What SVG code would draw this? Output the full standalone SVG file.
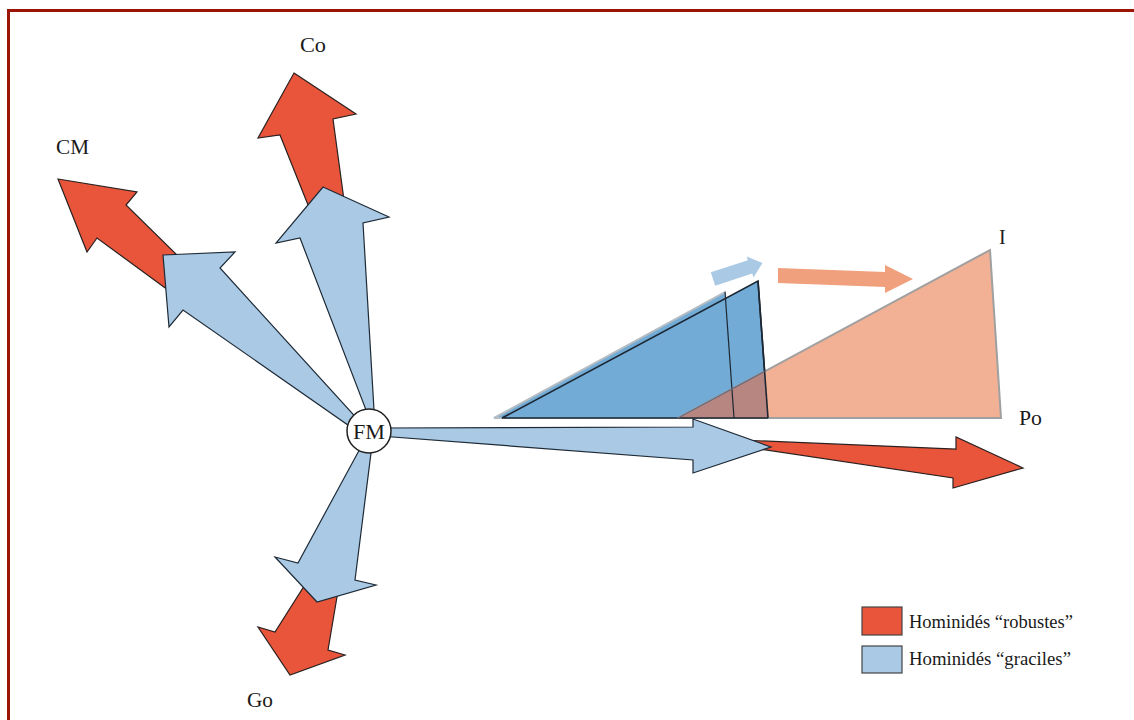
<svg xmlns="http://www.w3.org/2000/svg" width="1134" height="720" viewBox="0 0 1134 720">
<style>
.red{fill:#e8553b;stroke:#2a2020;stroke-width:1.2;stroke-linejoin:miter}
.blue{fill:#a9c9e4;stroke:#1e2a36;stroke-width:1.2;stroke-linejoin:miter}
.lbl{font-family:"Liberation Serif","Times New Roman",serif;fill:#1a1a1a}
</style>
<rect width="1134" height="720" fill="#ffffff"/>
<path d="M8.5,720 V10.5 H1134" fill="none" stroke="#9a1506" stroke-width="3"/>

<g id="triangles">
  <polygon points="494,418 725,292 734,418" fill="#72abd5" stroke="#b4bcc4" stroke-width="2"/>
  <polygon points="502,418 758,281 768,418" fill="#72abd5" stroke="#1c2733" stroke-width="1.6"/>
  <polygon points="678,418 990,250 1001,418" fill="#f2b194" stroke="#a0a0a0" stroke-width="2"/>
  <polygon points="678,418 764.6,371.4 768,418" fill="#b88680"/>
  <line x1="725" y1="292" x2="734" y2="418" stroke="#1c2733" stroke-width="1.2"/>
  <line x1="758" y1="281" x2="768" y2="418" stroke="#1c2733" stroke-width="1.6"/>
  <line x1="678" y1="418" x2="768" y2="418" stroke="#1c2733" stroke-width="1.6"/>
  <line x1="678" y1="418" x2="764.6" y2="371.4" stroke="#6a6a7a" stroke-width="1.2"/>
</g>

<g id="shift-arrows">
  <polygon transform="translate(713,279) rotate(-18)" points="0,-7 39,-7 39,-11 52,0 39,11 39,7 0,7" fill="#a9c9e4"/>
  <polygon points="778,268 885,272 885,265 913,279 885,293 885,287 778,283" fill="#f0a07c"/>
</g>

<g id="connectors">
  <polygon id="co-red" class="red" points="294,73 356,114 333,119 346,215 312,215 280,135 258,138"/>
  <polygon id="cm-red" class="red" points="58,179 137,192 126,205 180,258 168,290 97,238 87,252"/>
  <polygon id="po-red" class="red" points="740,440 956,449 956,437 1023,468 953,488 953,478 740,446"/>
  <polygon id="go-red" class="red" points="308,580 339,585 328,650 345,655 290,675 258,627 275,632"/>
  <polygon id="co-blue" class="blue" points="323,187 389,217 363,223 374,410 366,410 300,238 276,243"/>
  <polygon id="cm-blue" class="blue" points="163,255 235,252 220,268 362,424 358,432 183,310 169,327"/>
  <polygon id="po-blue" class="blue" points="380,428 693,427 693,419 771,447 693,473 693,460 380,436"/>
  <polygon id="go-blue" class="blue" points="362,445 372,445 355,580 376,585 317,602 275,557 298,563"/>
</g>

<g id="node-FM">
  <circle cx="369" cy="431" r="22" fill="#ffffff" stroke="#222" stroke-width="1.5"/>
  <text class="lbl" x="369" y="439" font-size="21" text-anchor="middle" textLength="32" lengthAdjust="spacingAndGlyphs">FM</text>
</g>
<g id="node-Co"><text class="lbl" x="300" y="52" font-size="20" textLength="26" lengthAdjust="spacingAndGlyphs">Co</text></g>
<g id="node-CM"><text class="lbl" x="56" y="154" font-size="20" textLength="33" lengthAdjust="spacingAndGlyphs">CM</text></g>
<g id="node-Go"><text class="lbl" x="247" y="707" font-size="20" textLength="26" lengthAdjust="spacingAndGlyphs">Go</text></g>
<g id="node-I"><text class="lbl" x="999" y="244" font-size="20">I</text></g>
<g id="node-Po"><text class="lbl" x="1019" y="425" font-size="20" textLength="23" lengthAdjust="spacingAndGlyphs">Po</text></g>

<g id="legend">
  <rect x="862" y="607" width="40" height="28" fill="#e8553b" stroke="#444" stroke-width="1.2"/>
  <text class="lbl" x="909" y="628" font-size="18" textLength="164" lengthAdjust="spacingAndGlyphs">Hominidés “robustes”</text>
  <rect x="862" y="646" width="40" height="27" fill="#a9c9e4" stroke="#444" stroke-width="1.2"/>
  <text class="lbl" x="909" y="665" font-size="18" textLength="162" lengthAdjust="spacingAndGlyphs">Hominidés “graciles”</text>
</g>
</svg>
